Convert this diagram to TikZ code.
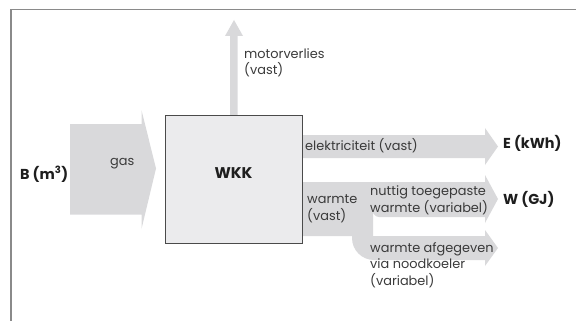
\documentclass[tikz,border=0pt]{standalone}
\usepackage{fontspec}
\setmainfont{Poppins}
\definecolor{flow}{HTML}{D9D9DB}
\definecolor{boxfill}{HTML}{EBEBED}
\definecolor{boxline}{HTML}{4A4A4A}
\definecolor{framecol}{HTML}{8A8A8A}
\definecolor{txt}{HTML}{3A3A3A}
\definecolor{btxt}{HTML}{1E1E1E}
\begin{document}
\begin{tikzpicture}[x=1pt,y=-1pt,
  flowshape/.style={fill=flow,draw=none},
  lbl/.style={text=txt,font=\fontsize{12.9}{16.5}\selectfont,anchor=west,inner sep=0pt,align=left},
  blbl/.style={text=btxt,font=\fontsize{14.4}{17}\selectfont\bfseries,inner sep=0pt},
  mainbox/.style={draw=boxline,fill=boxfill,line width=0.9pt,minimum width=137pt,minimum height=128pt,inner sep=0pt}]
\useasboundingbox (0,0) rectangle (576,321);
% frame
\draw[framecol,line width=1.4pt] (11,321) -- (11,9.5) -- (576,9.5);
% gas arrow
\fill[flowshape] (70,124) -- (141.5,124) -- (141.5,110) -- (156,168.5) -- (141.5,229) -- (141.5,214.5) -- (70,214.5) -- cycle;
% motor losses arrow
\fill[flowshape] (230,118) -- (230,36) -- (225,36) -- (234,20) -- (243,36) -- (237.5,36) -- (237.5,118) -- cycle;
% electricity arrow
\fill[flowshape] (298,135) -- (485,135) -- (485,128) -- (498,146.5) -- (485,165) -- (485,158) -- (298,158) -- cycle;
% heat arrows
\fill[flowshape] (298,182) -- (485,182) -- (485,175) -- (498,199) -- (485,223) -- (485,217)
  -- (379,217) arc[start angle=90,end angle=180,radius=6] -- (373,236)
  -- (485,236) -- (485,230) -- (498,248) -- (485,266) -- (485,260)
  -- (374,260) arc[start angle=90,end angle=180,radius=22] -- (352,236) -- (298,236) -- cycle;
% main box
\node[mainbox] (wkk) at (233.5,179) {};
\node[blbl,font=\fontsize{15.5}{18}\selectfont\bfseries] (wkkt) at (233.5,173) {WKK};
% labels
\node[blbl,anchor=west] (b) at (20,174) {B (m\textsuperscript{3})};
\node[lbl] (gas) at (110,164) {gas};
\node[lbl] (mv) at (244,63) {motorverlies\\(vast)};
\node[lbl] (el) at (305,146) {elektriciteit (vast)};
\node[lbl] (wv) at (307,209) {warmte\\(vast)};
\node[lbl] (nt) at (370,200.5) {nuttig toegepaste\\warmte (variabel)};
\node[lbl] (nk) at (370,265) {warmte afgegeven\\via noodkoeler\\(variabel)};
\node[blbl,anchor=west] (e) at (503,143) {E (kWh)};
\node[blbl,anchor=west] (w) at (503,199) {W (GJ)};
\end{tikzpicture}
\end{document}
